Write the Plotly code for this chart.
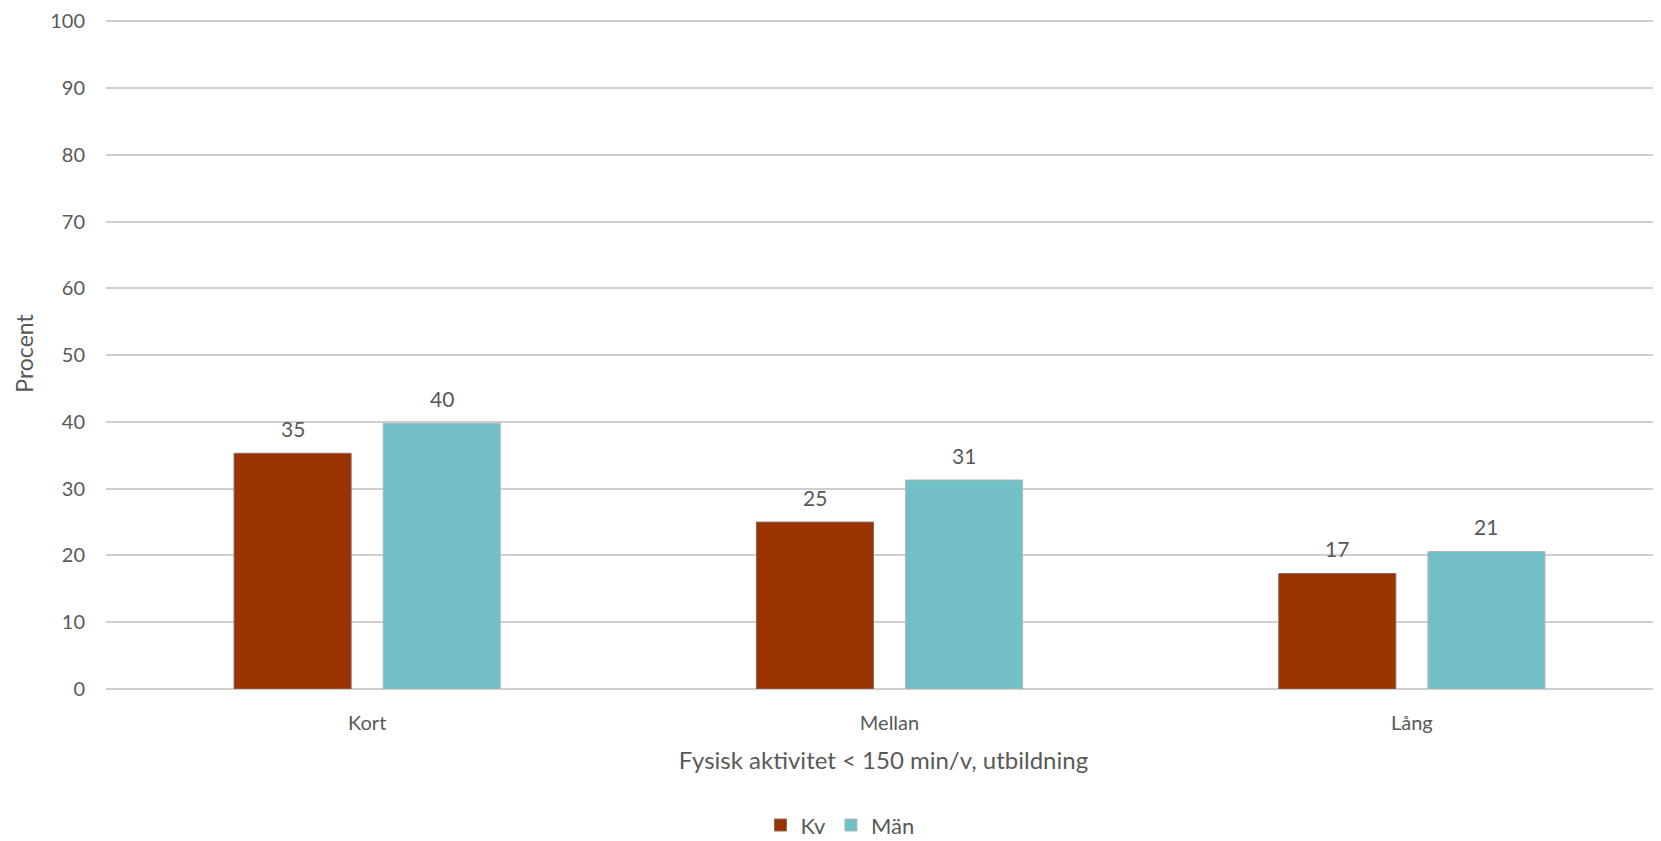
import plotly.graph_objects as go

categories = ["Kort", "Mellan", "Lång"]
kv_values = [35.3, 25.0, 17.3]
man_values = [39.8, 31.3, 20.6]
series_names = ["Kv", "Män"]
y_ticks = [0, 10, 20, 30, 40, 50, 60, 70, 80, 90, 100]

FONT = "Lato, 'Open Sans', sans-serif"
TXT = "#595959"
KV_COLOR = "#993300"
MAN_COLOR = "#72BFC5"
GRID = "#CFCFCF"

fig = go.Figure()
fig.add_trace(go.Bar(x=categories, y=kv_values, name=series_names[0],
                     marker=dict(color=KV_COLOR, line=dict(color="#8a6a5a", width=1)),
                     hoverinfo="x+y"))
fig.add_trace(go.Bar(x=categories, y=man_values, name=series_names[1],
                     marker=dict(color=MAN_COLOR, line=dict(color="#a9b9bb", width=1)),
                     hoverinfo="x+y"))

annotations = []
for vals, xs in ((kv_values, -74.5), (man_values, 74.5)):
    for c, v in zip(categories, vals):
        annotations.append(dict(x=c, y=v, xref="x", yref="y", text=f"{v:.0f}",
                                showarrow=False, xshift=xs, yshift=25, yanchor="middle",
                                font=dict(family=FONT, size=21, color=TXT)))

# page body has an 8px default margin, so the figure is sized to fit the window
fig.update_layout(
    width=1653, height=833,
    margin=dict(l=98, r=0, t=10, b=152, autoexpand=False),
    paper_bgcolor="white", plot_bgcolor="white",
    barmode="group", bargap=0.429, bargroupgap=0.215,
    font=dict(family=FONT, size=20, color=TXT),
    annotations=annotations,
    showlegend=True,
    legend=dict(orientation="h", x=0.472, xanchor="center", y=-0.203, yanchor="middle",
                font=dict(family=FONT, size=22, color=TXT), itemwidth=30,
                traceorder="normal"),
    xaxis=dict(range=[-0.5, 2.477], showgrid=False, ticks="outside", ticklen=16,
               tickcolor="rgba(0,0,0,0)", showline=False,
               tickfont=dict(family=FONT, size=20, color=TXT),
               title=dict(text="Fysisk aktivitet < 150 min/v, utbildning",
                          font=dict(family=FONT, size=24, color=TXT), standoff=19)),
    yaxis=dict(range=[0, 100.5], tickvals=y_ticks, showgrid=True, gridcolor=GRID,
               gridwidth=2, zeroline=True, zerolinecolor=GRID, zerolinewidth=2,
               showline=False, ticks="outside", ticklen=16, tickcolor="rgba(0,0,0,0)",
               tickfont=dict(family=FONT, size=20, color=TXT),
               title=dict(text="Procent", font=dict(family=FONT, size=23, color=TXT), standoff=10)),
)

fig.write_html("out.html")
